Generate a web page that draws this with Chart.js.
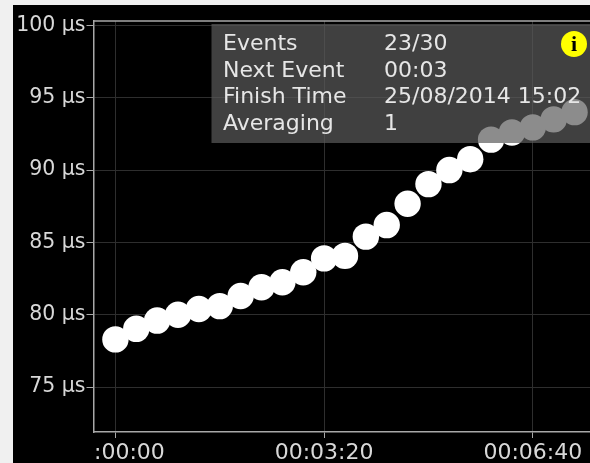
<!DOCTYPE html>
<html><head><meta charset="utf-8">
<script src="https://cdn.jsdelivr.net/npm/chart.js@4"></script>
<style>
html,body{margin:0;padding:0;background:#f0f0f0;width:590px;height:463px;overflow:hidden}
canvas{position:absolute;left:13px;top:5px;filter:blur(0.35px)}
</style></head><body>
<canvas id="c" width="577" height="458"></canvas>
<script>
const seconds=[0,20,40,60,80,100,120,140,160,180,200,220,240,260,280,300,320,340,360,380,400,420,440];
const micros=[78.3,79.03,79.6,80.0,80.4,80.6,81.3,81.9,82.25,82.94,83.9,84.07,85.4,86.2,87.67,89.03,90.0,90.75,92.1,92.6,92.95,93.5,94.0];
const xTicks=[0,200,400];
const xTickLabels=["00:00:00","00:03:20","00:06:40"];
const yTicks=[75,80,85,90,95,100];
const infoLabels=["Events","Next Event","Finish Time","Averaging"];
const infoValues=["23/30","00:03","25/08/2014 15:02","1"];
const font="'DejaVu Sans'";
const overlay={id:'overlay',
 beforeDraw(ch){const g=ch.ctx;g.save();g.fillStyle='#000';g.fillRect(0,0,ch.width,ch.height);g.restore();},
 afterDraw(ch){const g=ch.ctx,a=ch.chartArea;g.save();
  g.strokeStyle='#a8a8a8';g.lineWidth=1.5;g.beginPath();g.moveTo(a.left,a.top);g.lineTo(a.right,a.top);g.stroke();
  g.fillStyle='#000';g.fillRect(0,a.bottom+8,a.left-0.5,ch.height-a.bottom);
  g.fillStyle='rgba(91,91,91,0.7)';g.fillRect(198.5,19,a.right-198.5,119);
  g.fillStyle='#e6e6e6';g.font="22px "+font;g.textBaseline='middle';g.textAlign='left';
  infoLabels.forEach((t,i)=>{g.fillText(t,210,39.5+i*26.6);g.fillText(infoValues[i],371,39.5+i*26.6);});
  g.fillStyle='#ffff00';g.beginPath();g.arc(561,39,13,0,Math.PI*2);g.fill();
  g.fillStyle='#000';g.font="bold 22px 'Liberation Serif'";g.textAlign='center';g.fillText('i',561,40);
  g.restore();}
};
new Chart(document.getElementById('c'),{
 type:'scatter',
 data:{datasets:[{data:seconds.map((s,i)=>({x:s,y:micros[i]})),backgroundColor:'#fff',borderColor:'#fff',pointRadius:13.2,pointHoverRadius:13.2,borderWidth:0}]},
 plugins:[overlay],
 options:{responsive:false,animation:false,events:[],
  layout:{autoPadding:false,padding:{top:16,left:0,right:0,bottom:0}},
  plugins:{legend:{display:false},tooltip:{enabled:false},title:{display:false}},
  scales:{
   x:{type:'linear',min:-21,max:454.8,
    afterFit(s){s.height=31;s.paddingRight=0;s.paddingLeft=0;},
    afterBuildTicks(s){s.ticks=xTicks.map(v=>({value:v}));},
    grid:{color:'#2e2e2e',lineWidth:1,tickColor:'#a8a8a8',tickLength:6},
    border:{color:'#a8a8a8',width:1.5},
    ticks:{color:'#d8d8d8',font:{family:font,size:22},padding:2,maxRotation:0,autoSkip:false,
     callback(v){const i=xTicks.indexOf(v);return i<0?'':xTickLabels[i];}}},
   y:{type:'linear',min:71.9,max:100.3,
    afterFit(s){s.width=80.5;s.paddingTop=0;s.paddingBottom=0;},
    afterBuildTicks(s){s.ticks=yTicks.map(v=>({value:v}));},
    grid:{color:'#2e2e2e',lineWidth:1,tickColor:'#a8a8a8',tickLength:7},
    border:{color:'#a8a8a8',width:1.5},
    ticks:{color:'#d8d8d8',font:{family:font,size:20.5},padding:1,autoSkip:false,
     callback(v){return v+' µs';}}}
  }}
});
</script></body></html>
